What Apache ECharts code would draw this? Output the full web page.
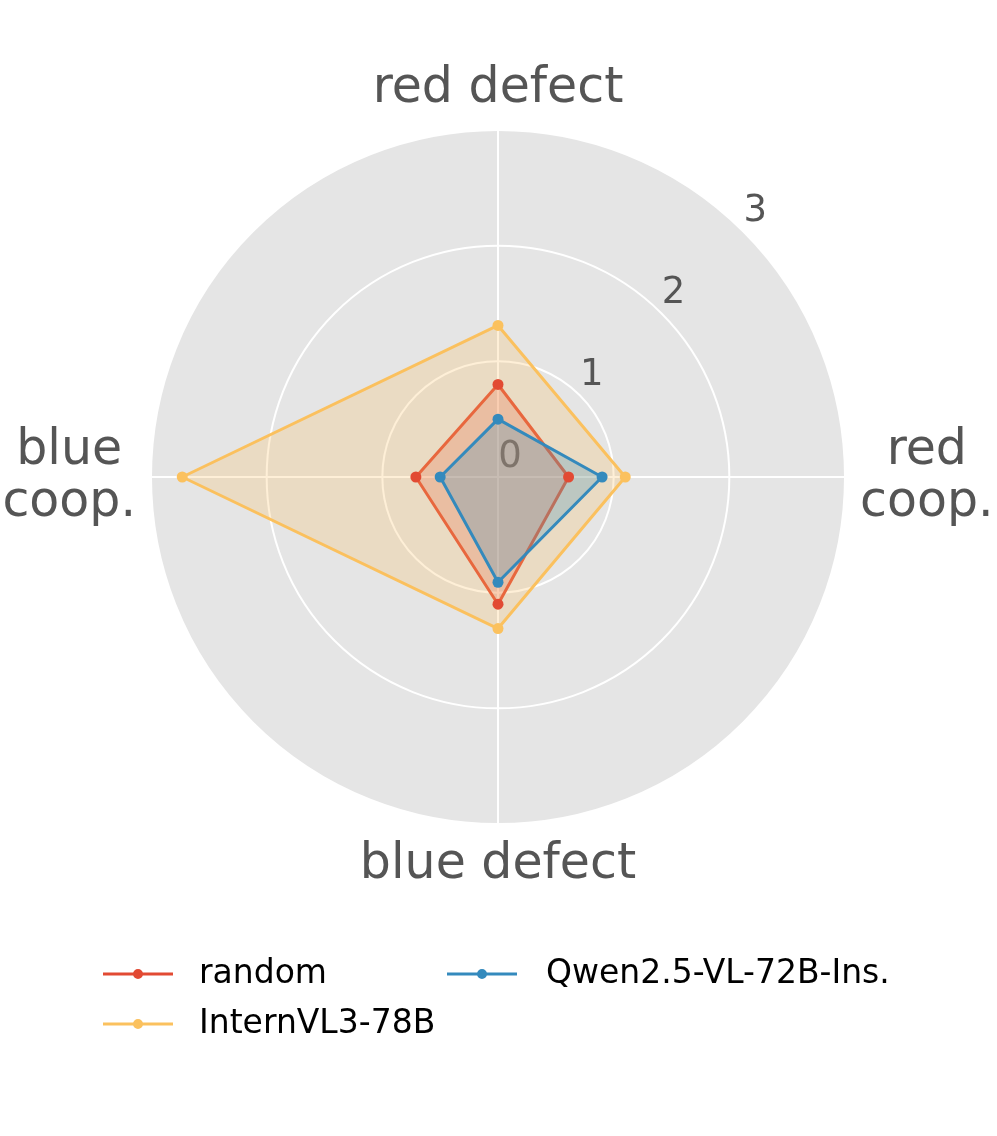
<!DOCTYPE html>
<html>
<head>
<meta charset="utf-8">
<script src="https://cdn.jsdelivr.net/npm/echarts@6/dist/echarts.min.js"></script>
<style>
  html, body { margin: 0; padding: 0; background: #fff; }
  #main { width: 997px; height: 1136px; }
</style>
</head>
<body>
<div id="main"></div>
<script>
// axes go counterclockwise from the top
const categories = ['red defect', 'blue\ncoop.', 'blue defect', 'red\ncoop.'];
const randomVals = [0.80, 0.71, 1.10, 0.61];
const internVals = [1.31, 2.73, 1.31, 1.10];
const qwenVals = [0.50, 0.50, 0.91, 0.90];
const tickValues = [0, 1, 2, 3];

const seriesNames = ['random', 'InternVL3-78B', 'Qwen2.5-VL-72B-Ins.'];
const colors = ['#E24A33', '#FBC15E', '#348ABD'];

const chart = echarts.init(document.getElementById('main'));
const font = 'DejaVu Sans';
const center = [498, 477];
const R = 347;

// line with a dot, like the matplotlib legend handle
const legendIcon = 'path://M0,4 L70,4 L70,7 L0,7 Z M35,0.5 A5,5 0 1,1 35,10.5 A5,5 0 1,1 35,0.5 Z';

const mkSeries = (name, vals, color) => ({
  type: 'radar',
  name: name,
  z: 3,
  symbol: 'circle',
  symbolSize: 11,
  lineStyle: { color: color, width: 3 },
  itemStyle: { color: color, borderWidth: 0 },
  areaStyle: { color: color, opacity: 0.25 },
  data: [{ name: name, value: vals }]
});

const legendBase = {
  orient: 'vertical',
  top: 949,
  itemWidth: 70,
  itemHeight: 11,
  itemGap: 10,
  icon: legendIcon
};
const legendText = pad => ({ fontFamily: font, fontSize: 33, color: '#000', lineHeight: 40, padding: [0, 0, 0, pad] });

chart.setOption({
  animation: false,
  color: colors,
  legend: [
    Object.assign({}, legendBase, { left: 98, textStyle: legendText(21), data: [seriesNames[0], seriesNames[1]] }),
    Object.assign({}, legendBase, { left: 442, textStyle: legendText(24), data: [seriesNames[2]] })
  ],
  radar: {
    center: center,
    radius: R,
    shape: 'circle',
    splitNumber: 3,
    indicator: categories.map(c => ({ name: c, min: 0, max: 3 })),
    nameGap: 15,
    axisName: {
      color: '#555555',
      fontFamily: font,
      fontSize: 49,
      lineHeight: 52,
      formatter: v => v.split('\n').map(s => '{c|' + s + '}').join('\n'),
      rich: { c: { align: 'center', fontFamily: font, fontSize: 49, lineHeight: 52, color: '#555555' } }
    },
    axisLine: { lineStyle: { color: '#ffffff', width: 2 } },
    axisTick: { show: false },
    axisLabel: { show: false },
    splitLine: { lineStyle: { color: '#ffffff', width: 2 } },
    splitArea: { areaStyle: { color: ['#E5E5E5'] } }
  },
  // polar twin only to place the radial tick labels
  polar: { center: center, radius: R },
  angleAxis: { type: 'value', min: 0, max: 360, startAngle: 90, clockwise: true, show: false },
  radiusAxis: { type: 'value', min: 0, max: 3, show: false },
  series: [
    {
      type: 'scatter',
      coordinateSystem: 'polar',
      z: 1,
      silent: true,
      symbolSize: 0,
      itemStyle: { opacity: 1 },
      data: tickValues.map(v => [v, 45]),
      label: {
        show: true,
        position: 'inside',
        offset: [12, -20],
        formatter: p => String(p.value[0]),
        fontFamily: font,
        fontSize: 37,
        color: '#555555'
      }
    },
    mkSeries(seriesNames[0], randomVals, colors[0]),
    mkSeries(seriesNames[1], internVals, colors[1]),
    mkSeries(seriesNames[2], qwenVals, colors[2])
  ]
});
</script>
</body>
</html>
